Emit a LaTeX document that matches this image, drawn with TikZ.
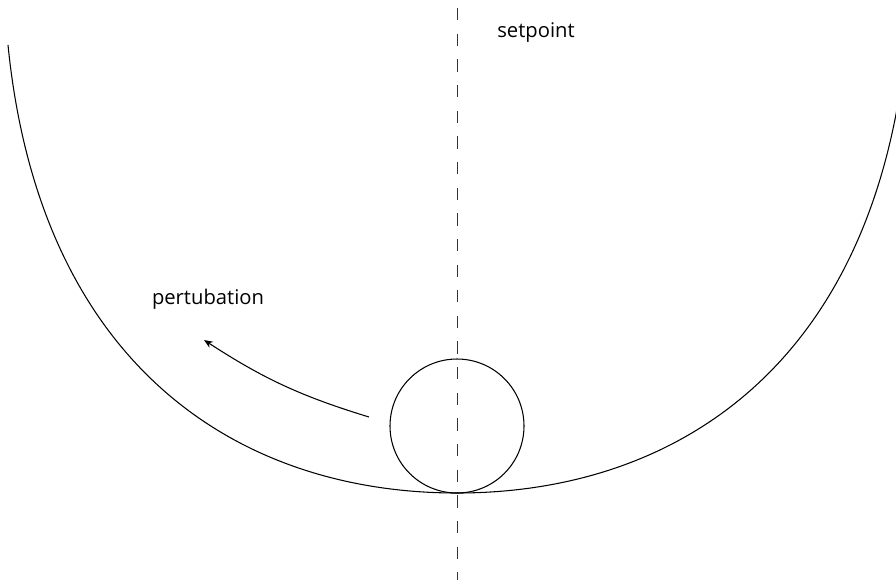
\documentclass[tikz,border=0pt]{standalone}
\usepackage{fontspec}
\setmainfont{Open Sans}
\usetikzlibrary{arrows.meta}

\begin{document}
\begin{tikzpicture}[x=0.02cm, y=-0.02cm, line width=0.6pt,
	every node/.style={font=\fontsize{11.5}{14}\selectfont, inner sep=0pt},
	>={Stealth[length=5pt, width=4pt]}]
	\useasboundingbox (0,0) rectangle (896,586);
	\clip (0,0) rectangle (896,586);
	% bowl
	\draw (8,45) .. controls (40,365) and (237,493) .. (457,493)
		.. controls (677,493) and (874,365) .. (906,45);
	% setpoint axis
	\draw[black!80, line width=0.5pt, dash pattern=on 7pt off 7.6pt] (457,8) -- (457,580);
	\node (ball) [draw, circle, minimum size=2*67*0.02cm] at (457,426) {};
	\node (setpoint) at (536,33) {setpoint};
	\node (pertubation) at (208,299) {pertubation};
	\coordinate (push) at (369,417);
	\coordinate (away) at (204,340);
	\draw[->] (push) to[bend left=8] (away);
\end{tikzpicture}
\end{document}
